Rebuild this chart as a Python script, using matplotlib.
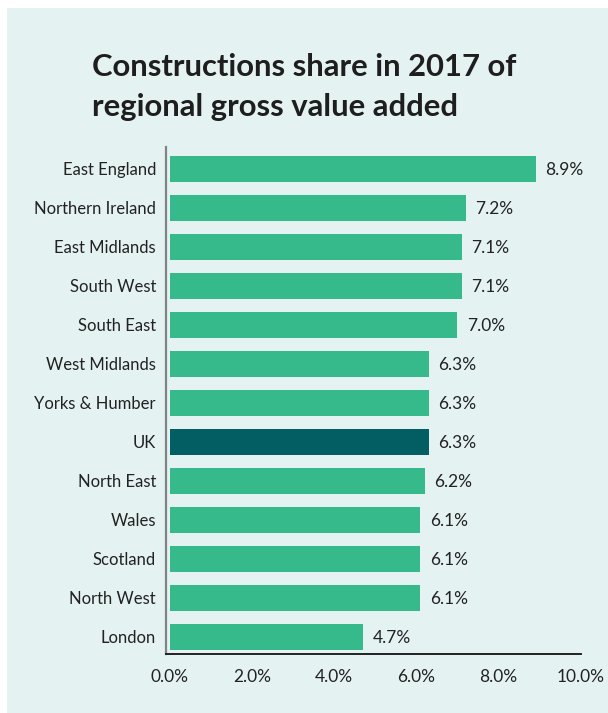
import matplotlib
matplotlib.use("Agg")
import matplotlib.pyplot as plt
from matplotlib.patches import Rectangle

# data, top to bottom
regions = ["East England", "Northern Ireland", "East Midlands", "South West",
           "South East", "West Midlands", "Yorks & Humber", "UK", "North East",
           "Wales", "Scotland", "North West", "London"]
share = [8.9, 7.2, 7.1, 7.1, 7.0, 6.3, 6.3, 6.3, 6.2, 6.1, 6.1, 6.1, 4.7]
xticks = [0, 2, 4, 6, 8, 10]

bg = "#e4f2f1"
green = "#36ba8b"
dark = "#035e63"
txt = "#222222"

plt.rcParams["font.family"] = ["Lato", "DejaVu Sans"]

fig = plt.figure(figsize=(6.08, 7.13), dpi=100)
fig.patch.set_facecolor("white")
# mint panel behind everything
panel = Rectangle((7 / 608, 0), 1, 1 - 8 / 713, transform=fig.transFigure,
                  facecolor=bg, edgecolor="none", zorder=-1)
fig.add_artist(panel)

ax = fig.add_axes([165.7 / 608, 1 - 654 / 713, (580.7 - 165.7) / 608, (654 - 147) / 713])
ax.set_facecolor("none")

n = len(regions)
ypos = list(range(n - 1, -1, -1))
colors = [dark if r == "UK" else green for r in regions]
ax.barh(ypos, share, height=0.67, color=colors, zorder=2)

for y, v in zip(ypos, share):
    ax.text(v + 0.24, y - 0.02, f"{v:.1f}%", va="center", ha="left",
            fontsize=12.5, color=txt)

ax.set_xlim(-0.1, 10)
ax.set_ylim(-0.44, n - 0.44)
ax.set_yticks(ypos)
ax.set_yticklabels(regions, fontsize=12, color=txt)
ax.set_xticks(xticks)
ax.set_xticklabels([f"{t:.1f}%" for t in xticks], fontsize=12.5, color=txt)
ax.tick_params(axis="both", length=0)
ax.tick_params(axis="y", pad=7)
ax.tick_params(axis="x", pad=11)

for s in ["top", "right"]:
    ax.spines[s].set_visible(False)
ax.spines["left"].set_color("#7f8585")
ax.spines["left"].set_linewidth(1.6)
ax.spines["bottom"].set_color("#222222")
ax.spines["bottom"].set_linewidth(1.4)

fig.text(92 / 608, 1 - 76 / 713, "Constructions share in 2017 of", fontsize=22.3,
         fontweight="bold", color="#1e1e1e", ha="left", va="baseline")
fig.text(92 / 608, 1 - 116 / 713, "regional gross value added", fontsize=22.3,
         fontweight="bold", color="#1e1e1e", ha="left", va="baseline")

fig.savefig("out.png", dpi=100, facecolor=fig.get_facecolor())
